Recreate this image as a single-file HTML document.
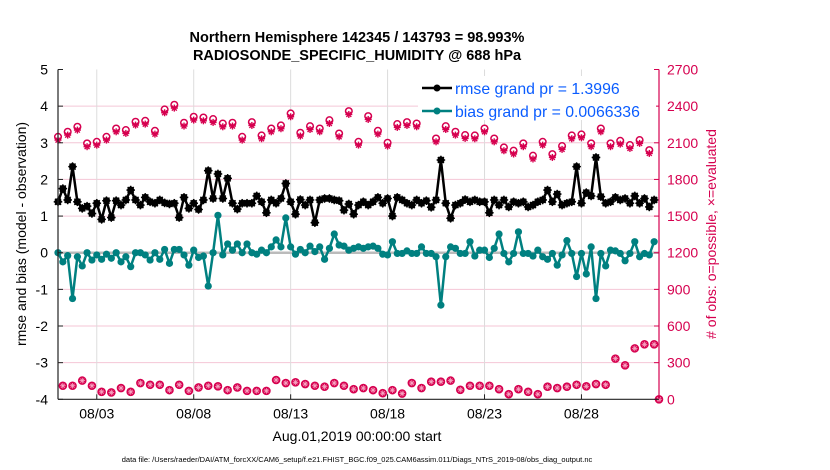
<!DOCTYPE html>
<html><head><meta charset="utf-8"><style>
html,body{margin:0;padding:0;background:#fff;}
svg{display:block;font-family:"Liberation Sans",sans-serif;}
</style></head><body>
<svg id="chart" width="830" height="470" viewBox="0 0 830 470">
<text x="357" y="42" text-anchor="middle" font-size="14.5" font-weight="bold">Northern Hemisphere 142345 / 143793 = 98.993%</text>
<text x="357" y="60" text-anchor="middle" font-size="14.5" font-weight="bold">RADIOSONDE_SPECIFIC_HUMIDITY @ 688 hPa</text>
<g id="grid"></g>
<g id="marks"></g>
<g id="axes"></g>
<text x="357" y="441" text-anchor="middle" font-size="14">Aug.01,2019 00:00:00 start</text>
<text transform="translate(26,234) rotate(-90)" text-anchor="middle" font-size="14">rmse and bias (model - observation)</text>
<text transform="translate(716,234) rotate(-90)" text-anchor="middle" font-size="14" fill="#d6004f"># of obs: o=possible, ×=evaluated</text>
<text x="357" y="462" text-anchor="middle" font-size="7.5">data file: /Users/raeder/DAI/ATM_forcXX/CAM6_setup/f.e21.FHIST_BGC.f09_025.CAM6assim.011/Diags_NTrS_2019-08/obs_diag_output.nc</text>
<g id="legend">
<rect x="418" y="76" width="238" height="44" fill="#fff"/>
<line x1="422" y1="88" x2="452" y2="88" stroke="#000" stroke-width="2.5"/>
<circle cx="437" cy="88" r="3.5" fill="#000"/>
<text x="455" y="94" font-size="15.8" fill="#0a5cff">rmse grand pr = 1.3996</text>
<line x1="422" y1="111" x2="452" y2="111" stroke="#008080" stroke-width="2.5"/>
<circle cx="437" cy="111" r="3.5" fill="#008080"/>
<text x="455" y="117" font-size="15.8" fill="#0a5cff">bias grand pr = 0.0066336</text>
</g>
</svg>
<script>
const rmse=[1.39,1.75,1.44,2.35,1.39,1.21,1.27,1.07,1.35,0.91,1.42,0.96,1.42,1.3,1.44,1.71,1.44,1.3,1.51,1.39,1.35,1.44,1.36,1.33,1.35,0.96,1.51,1.21,1.35,1.18,1.44,2.24,1.48,2.15,1.48,2.03,1.35,1.19,1.35,1.35,1.35,1.55,1.39,1.09,1.44,1.35,1.48,1.89,1.39,1.05,1.45,1.3,1.44,0.82,1.44,1.48,1.48,1.44,1.42,1.16,1.33,1.05,
1.3,1.39,1.3,1.39,1.51,1.35,1.48,1.0,1.51,1.44,1.35,1.3,1.44,1.35,1.42,1.24,1.44,2.53,1.35,0.94,1.3,1.35,1.45,1.39,1.44,1.39,1.39,1.09,1.44,1.3,1.44,1.25,1.39,1.35,1.39,1.25,1.3,1.39,1.44,1.71,1.39,1.6,1.3,1.35,1.39,2.35,1.35,1.64,1.55,2.6,1.53,1.35,1.39,1.51,1.44,1.48,1.35,1.55,1.35,1.48,1.25,1.44];
const bias=[0,-0.25,-0.08,-1.25,-0.11,-0.36,0,-0.2,-0.06,-0.18,-0.04,-0.15,0,-0.25,-0.11,-0.38,0,0,-0.06,-0.2,0,-0.18,0.09,-0.29,0.09,0.09,-0.06,-0.34,0.07,-0.13,-0.09,-0.91,0,1.02,-0.06,0.24,0.07,0.24,0,0.24,0,-0.04,0.07,0,0.16,0.35,0.16,0.95,0.16,-0.04,0.09,0,0.18,0.03,0.16,-0.18,0.12,0.51,0.21,0.18,0.07,0.12,
0.16,0.12,0.16,0.18,0.12,-0.04,-0.06,0.3,-0.02,-0.02,0.05,-0.02,-0.02,0.16,-0.02,-0.02,-0.11,-1.43,-0.11,0.16,0.12,-0.02,-0.02,0.3,-0.09,0.07,0.07,-0.13,0.12,0.51,-0.02,-0.25,-0.02,0.57,-0.02,-0.02,-0.09,0.07,-0.11,-0.18,-0.02,-0.34,-0.06,0.33,-0.02,-0.65,-0.02,-0.58,0.16,-1.25,-0.02,-0.36,0.07,0.05,-0.02,-0.22,-0.02,0.3,-0.11,-0.02,-0.06,0.3];
const possibleA=[2149,2190,2231,2095,2108,2149,2217,2204,2272,2280,2198,2373,2411,2264,2313,2307,2294,2258,2264,2149,2269,2160,2217,2242,2340,2182,2236,2217,2285,2176,2359,
2108,2318,2198,2100,2253,2269,2258,2362,2135,2236,2190,2163,2160,2217,2135,2062,2035,2095,1994,2108,2007,2073,2160,2168,2095,2217,2095,2116,2081,2122,2040];
const evaluatedA=[2122,2163,2204,2068,2081,2122,2190,2177,2245,2253,2171,2346,2384,2237,2286,2280,2267,2231,2237,2122,2242,2133,2190,2215,2313,2155,2209,2190,2258,2149,2332,
2081,2291,2171,2073,2226,2242,2231,2335,2108,2209,2163,2136,2133,2190,2108,2035,2008,2068,1967,2081,1980,2046,2133,2141,2068,2190,2068,2089,2054,2095,2013];
const possibleB=[111,111,153,111,61,56,92,61,133,119,119,75,119,69,97,111,106,75,97,69,69,69,158,133,139,125,111,103,133,111,83,
92,75,50,75,47,133,92,144,144,153,78,111,111,111,83,42,83,61,42,103,92,103,119,106,125,119,333,278,417,450,450,0];
const evaluatedB=[111,111,153,111,61,56,92,61,133,119,119,75,119,69,97,111,106,75,97,69,69,69,158,133,139,125,111,103,133,111,83,
92,75,50,75,47,133,92,144,144,153,78,111,111,111,83,42,83,61,42,103,92,103,119,106,125,119,333,278,417,450,450,0];
const leftTicks=[-4,-3,-2,-1,0,1,2,3,4,5];
const rightTicks=[0,300,600,900,1200,1500,1800,2100,2400,2700];
const dateTicks=[2,7,12,17,22,27];
const dateLabels=["08/03","08/08","08/13","08/18","08/23","08/28"];

const NS="http://www.w3.org/2000/svg";
const L=58,R=659,T=69.5,B=399.3;
const xS=t=>Math.min(R,L+t*(R-L)/31);
const yL=v=>B-(v+4)*(B-T)/9;
const yR=c=>B-c*(B-T)/2700;
function mk(tag,attrs,parent){const e=document.createElementNS(NS,tag);for(const k in attrs)e.setAttribute(k,attrs[k]);parent.appendChild(e);return e;}
const grid=document.getElementById('grid'),marks=document.getElementById('marks'),axes=document.getElementById('axes');

leftTicks.forEach(v=>{
 if(v>-4&&v<5&&v!==0){const g=mk('line',{x1:L,x2:R,y1:yL(v),y2:yL(v),stroke:'#f4c6d6','stroke-width':1},grid);
 
 }
 const t=mk('text',{x:L-10,y:yL(v)+5,'text-anchor':'end','font-size':14},axes);t.textContent=v;
 
 
 mk('line',{x1:L,x2:L+5,y1:yL(v),y2:yL(v),stroke:'#222'},axes);
});
rightTicks.forEach(c=>{
 const t=mk('text',{x:R+8,y:yR(c)+5,'font-size':14,fill:'#d6004f'},axes);t.textContent=c;
 
 
 mk('line',{x1:R-5,x2:R,y1:yR(c),y2:yR(c),stroke:'#d6004f'},axes);
});
dateTicks.forEach((d,i)=>{
 const g=mk('line',{x1:xS(d),x2:xS(d),y1:T,y2:B,stroke:'#dcdcdc'},grid);
 
 
 mk('line',{x1:xS(d),x2:xS(d),y1:B,y2:B-5,stroke:'#222'},axes);
 const t=mk('text',{x:xS(d),y:B+19,'text-anchor':'middle','font-size':14},axes);t.textContent=dateLabels[i];
 
 
});
const zl=mk('line',{x1:L,x2:R,y1:yL(0),y2:yL(0),stroke:'#bbb','stroke-width':2.5},grid);



function star(x,y,col,s,w){
 for(let a=0;a<4;a++){const th=a*Math.PI/4;mk('line',{x1:x-s*Math.cos(th),y1:y-s*Math.sin(th),x2:x+s*Math.cos(th),y2:y+s*Math.sin(th),stroke:col,'stroke-width':w},marks);}
}
possibleA.forEach((c,j)=>{const m=mk('circle',{cx:xS(j*0.5),cy:yR(c),r:3.3,fill:'#fff',stroke:'#d6004f','stroke-width':1.5},marks);
 
 });
evaluatedA.forEach((c,j)=>{star(xS(j*0.5),yR(c),'#d6004f',3.5,1.4);});
possibleB.forEach((c,j)=>{const m=mk('circle',{cx:xS(0.25+j*0.5),cy:yR(c),r:3.8,fill:'#d6004f',stroke:'#d6004f','stroke-width':1},marks);
 
 });
evaluatedB.forEach((c,j)=>{star(xS(0.25+j*0.5),yR(c),'#f7a8c4',2.8,0.8);});

function series(vals,col,name){
 const pts=vals.map((v,i)=>xS(i*0.25)+','+yL(v)).join(' ');
 const p=mk('polyline',{points:pts,fill:'none',stroke:col,'stroke-width':2.5,'stroke-linejoin':'round'},marks);
 
 
 vals.forEach((v,i)=>{const c=mk('circle',{cx:xS(i*0.25),cy:yL(v),r:3.6,fill:col},marks);
  
  
  if(name==='rmse')star(xS(i*0.25),yL(v),col,4.3,1.4);});
}
series(bias,'#008080','bias');
series(rmse,'#000','rmse');

mk('line',{x1:L,x2:L,y1:T,y2:B,stroke:'#222','stroke-width':1.2},axes);
mk('line',{x1:L,x2:R,y1:B,y2:B,stroke:'#222','stroke-width':1.2},axes);
mk('line',{x1:R,x2:R,y1:T,y2:B,stroke:'#d6004f','stroke-width':1.2},axes);
document.getElementById('chart').appendChild(document.getElementById('legend'));
</script>
</body></html>
